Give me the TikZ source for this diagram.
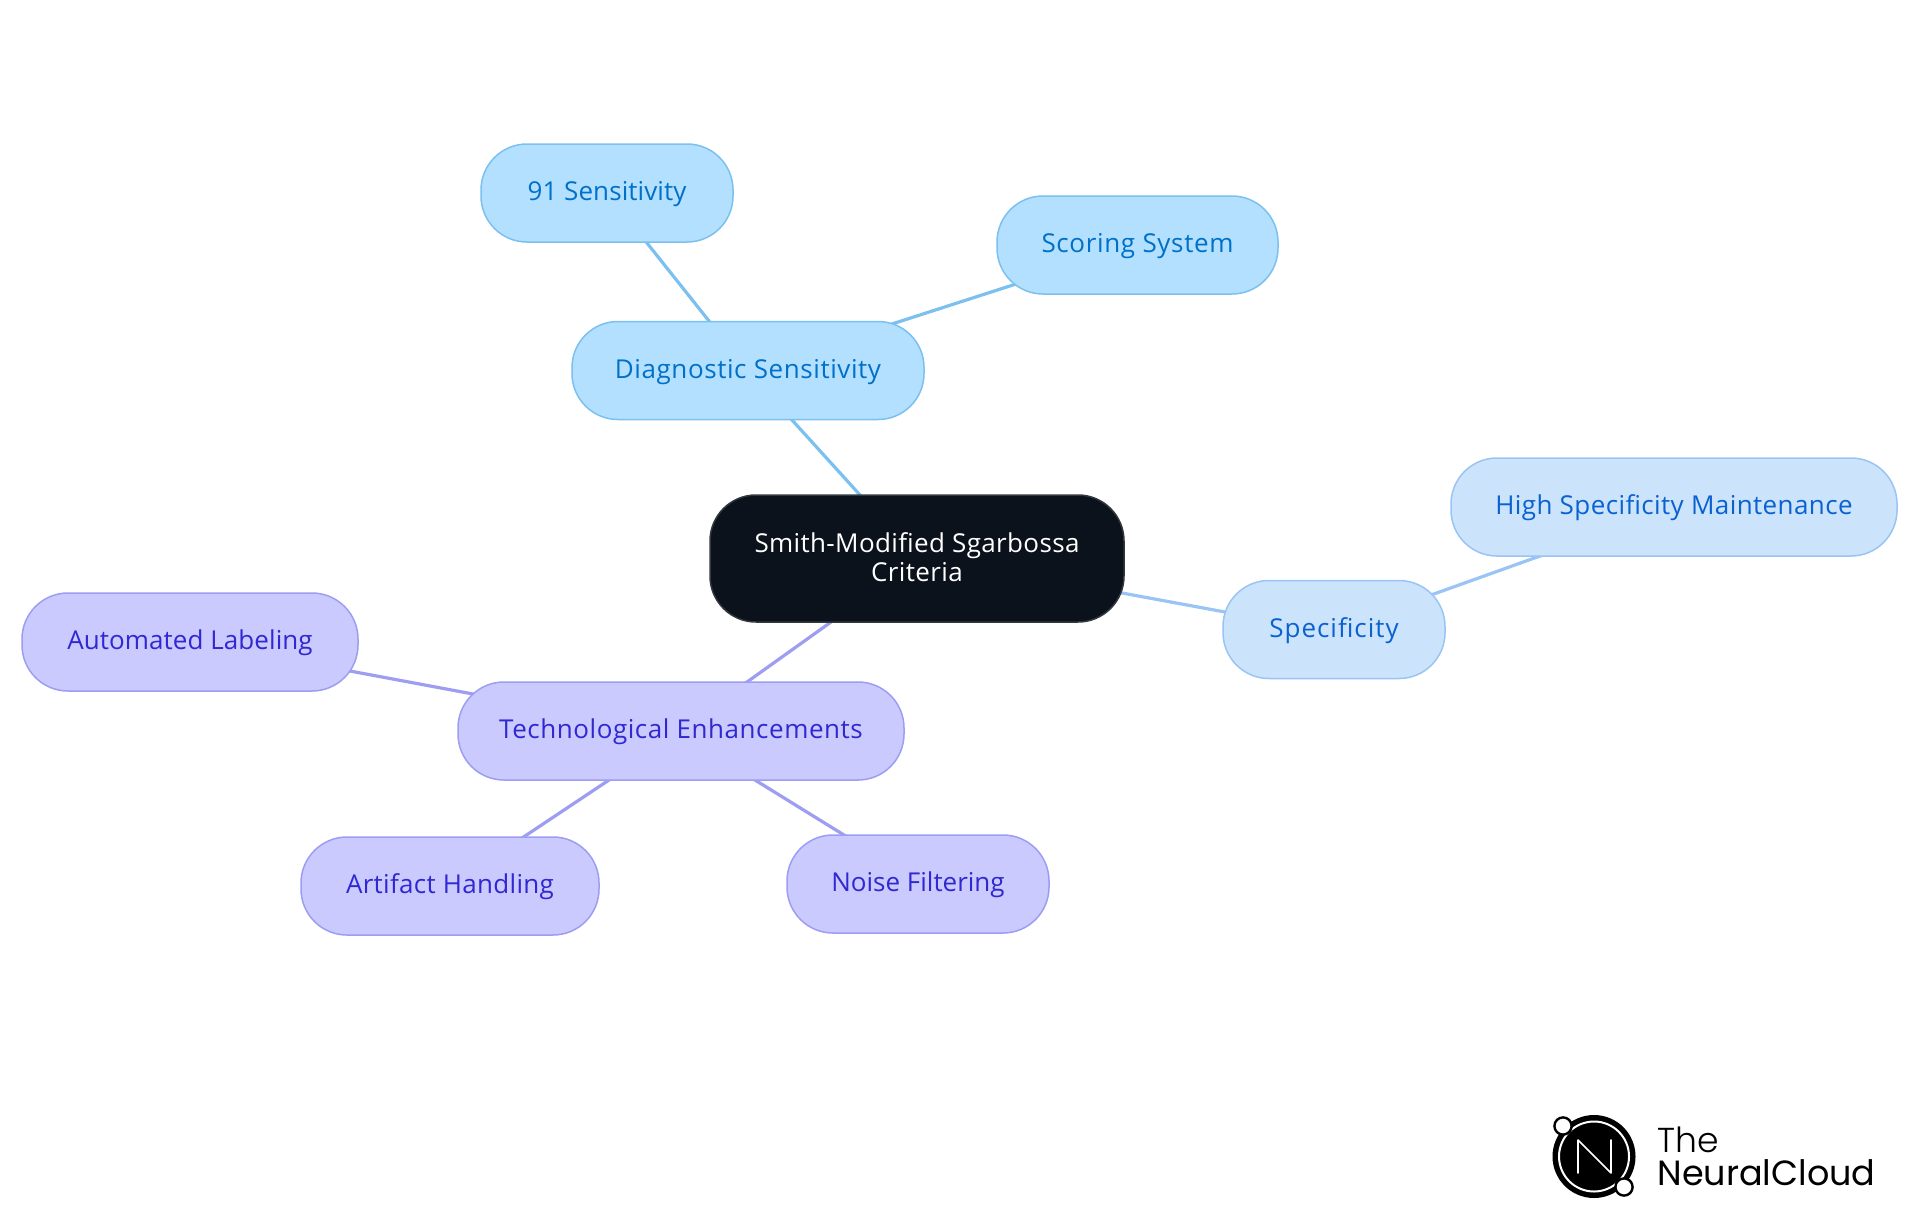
\documentclass[tikz,border=0pt]{standalone}
\usepackage{fontspec}
\setmainfont{Open Sans}
\newfontfamily\logofont{Poppins}
\newfontfamily\logolight[UprightFont={* Light}]{Poppins}
\usetikzlibrary{backgrounds}
\definecolor{sblue}{HTML}{B3E0FF}
\definecolor{sblueb}{HTML}{7CC0F0}
\definecolor{sbluet}{HTML}{0070C8}
\definecolor{pblue}{HTML}{CCE3FC}
\definecolor{pblueb}{HTML}{99C4F3}
\definecolor{pbluet}{HTML}{0A62D0}
\definecolor{vio}{HTML}{CACAFF}
\definecolor{viob}{HTML}{9D9DF2}
\definecolor{viot}{HTML}{3028D0}
\definecolor{darkn}{HTML}{0B121B}
\definecolor{darkb}{HTML}{33383F}
\tikzset{
  x=0.5pt,y=-0.5pt,
  mm/.style={rounded corners=23pt,line width=0.75pt,align=center,inner sep=0pt,minimum height=49pt},
  ls/.style={font=\fontsize{13}{14.5}\selectfont\addfontfeature{LetterSpace=#1}},
  one/.style={mm,text height=10pt,text depth=2.2pt},
  sn/.style={one,fill=sblue,draw=sblueb,text=sbluet},
  pn/.style={one,fill=pblue,draw=pblueb,text=pbluet},
  vn/.style={one,fill=vio,draw=viob,text=viot},
  cn/.style={mm,fill=darkn,draw=darkb,text=white,minimum height=63.5pt,text depth=1.2pt},
  edgebase/.style={line width=1.6pt,shorten <=-2pt,shorten >=-2pt},
  se/.style={edgebase,draw=sblueb},
  pe/.style={edgebase,draw=pblueb},
  ve/.style={edgebase,draw=viob},
  logotxt/.style={anchor=base west,inner sep=0pt,text=black,text height=13pt,text depth=0pt}
}
\begin{document}
\begin{tikzpicture}
\useasboundingbox (0,0) rectangle (1920,1215);
\node[cn,ls=1.4,minimum width=207pt] (c) at (917,558.5) {Smith-Modified Sgarbossa\\Criteria};
\node[sn,ls=2.2,minimum width=176pt] (diag) at (748,370.5) {Diagnostic Sensitivity};
\node[sn,ls=0.3,minimum width=126pt] (s91) at (607,193) {91 Sensitivity};
\node[sn,ls=2.5,minimum width=140.5pt] (score) at (1137.5,245) {Scoring System};
\node[pn,ls=1.6,minimum width=223pt] (high) at (1674,507) {High Specificity Maintenance};
\node[pn,ls=3.8,minimum width=111pt] (spec) at (1334,629.5) {Specificity};
\node[vn,ls=2.1,minimum width=223pt] (tech) at (681,731) {Technological Enhancements};
\node[vn,ls=0.3,minimum width=168pt] (auto) at (190,642) {Automated Labeling};
\node[vn,ls=1.2,minimum width=149pt] (art) at (450,886) {Artifact Handling};
\node[vn,ls=0,minimum width=131pt] (noise) at (918,884) {Noise Filtering};
\begin{scope}[on background layer]
\draw[se] ([shift={(-57,-63.5)}]c.center) -- ([shift={(44,49.5)}]diag.center);
\draw[se] ([shift={(-39,-49.5)}]diag.center) -- ([shift={(40,50)}]s91.center);
\draw[se] ([shift={(147,-47.5)}]diag.center) -- ([shift={(-121.5,39)}]score.center);
\draw[pe] ([shift={(205,34.5)}]c.center) -- ([shift={(-109,-17.5)}]spec.center);
\draw[pe] ([shift={(97,-34.5)}]spec.center) -- ([shift={(-134,49)}]high.center);
\draw[ve] ([shift={(-86,63.5)}]c.center) -- ([shift={(66,-49)}]tech.center);
\draw[ve] ([shift={(-208,-37)}]tech.center) -- ([shift={(160,29)}]auto.center);
\draw[ve] ([shift={(-72,49)}]tech.center) -- ([shift={(72,-48)}]art.center);
\draw[ve] ([shift={(74,49)}]tech.center) -- ([shift={(-74,-49)}]noise.center);
\end{scope}
% logo
\fill[black] (1594,1156.5) circle[radius=20.75pt];
\draw[white,line width=1pt] (1594,1156.5) circle[radius=17.5pt];
\draw[white,line width=0.8pt,line cap=round,line join=round] (1578,1173) -- (1578,1140) -- (1611,1173) -- (1611,1140);
\draw[black,fill=white,line width=1.2pt] (1563,1126) circle[radius=4.3pt];
\draw[black,fill=white,line width=1.2pt] (1624,1187) circle[radius=4.3pt];
\node[logotxt,font=\logolight\fontsize{17.3}{17.3}\selectfont] (lt) at (1657,1152) {The};
\node[logotxt,font=\logofont\fontsize{17.5}{17.5}\selectfont] (ln) at (1657,1185) {NeuralCloud};
\end{tikzpicture}
\end{document}
